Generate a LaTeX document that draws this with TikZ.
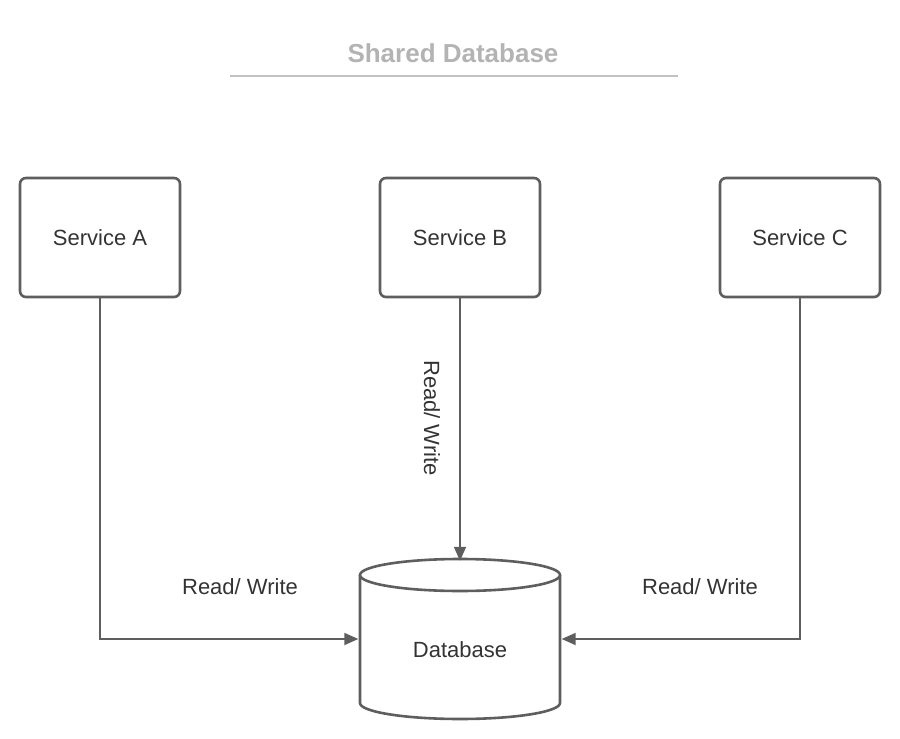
\documentclass[tikz,border=0pt]{standalone}
\usepackage{fontspec}
\setmainfont{Liberation Sans}
\usetikzlibrary{arrows.meta}
\definecolor{lc}{HTML}{5E5E5E}
\definecolor{tc}{HTML}{333333}
\definecolor{ttl}{HTML}{B3B3B3}
\definecolor{ttlline}{HTML}{C2C2C2}
\begin{document}
\begin{tikzpicture}[x=1pt,y=-1pt,
  svc/.style={draw=lc,line width=2.6pt,rounded corners=6pt,minimum width=160pt,minimum height=119pt,inner sep=0pt,text=tc,font=\fontsize{22}{24}\selectfont},
  lbl/.style={text=tc,font=\fontsize{22}{24}\selectfont,inner sep=0pt},
  conn/.style={draw=lc,line width=1.8pt,-{Triangle[length=14pt,width=12pt]}}]
\useasboundingbox (0,0) rectangle (900,739);
\node[text=ttl,font=\bfseries\fontsize{26}{30}\selectfont,inner sep=0pt] (title) at (453,53.5) {Shared Database};
\coordinate (tl) at (230,76);
\coordinate (tr) at (678,76);
\draw[ttlline,line width=2pt] (tl) -- (tr);
\node[svc] (a) at (100,237.5) {Service A};
\node[svc] (b) at (460,237.5) {Service B};
\node[svc] (c) at (800,237.5) {Service C};
% database cylinder
\node[minimum width=200pt,minimum height=160pt,inner sep=0pt] (db) at (460,639) {};
\draw[lc,line width=2.6pt,fill=white] (360,575) -- (360,703) arc[start angle=180,end angle=360,x radius=100,y radius=-16] -- (560,575);
\draw[lc,line width=2.6pt,fill=white] (460,575) ellipse[x radius=100,y radius=16];
\node[lbl] (dbl) at (460,650) {Database};
% connectors
\draw[conn] (a.south) |- ([xshift=-1.5pt]db.west);
\draw[conn] (c.south) |- ([xshift=1.5pt]db.east);
\draw[conn] (b.south) -- ([yshift=-2pt]db.north);
\node[lbl] (la) at (240,586.5) {Read/ Write};
\node[lbl] (lc) at (700,586.5) {Read/ Write};
\node[lbl,rotate=-90] (lb) at (432,418) {Read/ Write};
\end{tikzpicture}
\end{document}
